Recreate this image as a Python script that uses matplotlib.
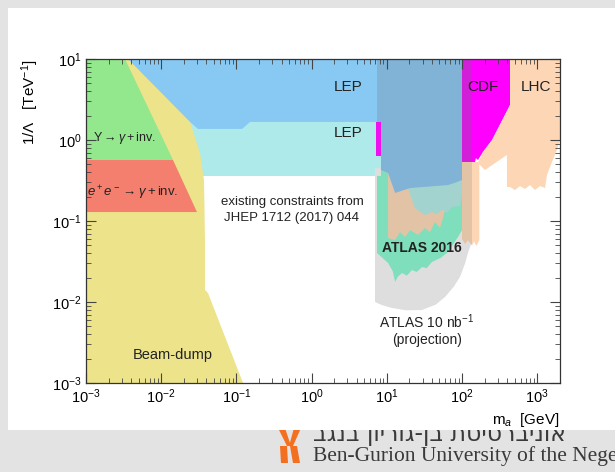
import matplotlib
matplotlib.use('Agg')
import matplotlib.pyplot as plt
from matplotlib.patches import Rectangle, Polygon
from matplotlib.ticker import LogLocator, NullFormatter
from matplotlib.transforms import Bbox, TransformedBbox

plt.rcParams['font.family'] = ['Liberation Sans', 'DejaVu Sans']
plt.rcParams['mathtext.fontset'] = 'custom'
plt.rcParams['mathtext.rm'] = 'Liberation Sans'
plt.rcParams['mathtext.it'] = 'Liberation Sans:italic'
plt.rcParams['mathtext.bf'] = 'Liberation Sans:bold'

# exclusion regions: m_a [GeV] and 1/Lambda [TeV^-1] along each boundary
lep_low_m = [1e-3, 8.37, 8.37, 1e-3]
lep_low_c = [0.36, 0.36, 1.8, 1.8]

lep_high_m = [1e-3, 7.41, 7.41, 0.152, 0.119, 0.0308, 0.0242, 1e-3]
lep_high_c = [10, 10, 1.67, 1.67, 1.37, 1.37, 1.67, 1.67]

beam_m = [1e-3, 1e-3, 3.62e-3, 0.0242, 0.0328, 0.0371, 0.0382, 0.0382, 0.0419, 0.1225]
beam_c = [1e-3, 10, 10, 1.67, 0.69, 0.32, 0.058, 0.0141, 0.0129, 1e-3]

upsilon_m = [1e-3, 3.30e-3, 0.01436, 1e-3]
upsilon_c = [10, 10, 0.566, 0.566]

ee_m = [1e-3, 0.01436, 0.0299, 1e-3]
ee_c = [0.566, 0.566, 0.129, 0.129]

proj_m = [6.97, 6.97, 8.5, 11.7, 18, 29.4, 45, 59.4, 78, 94, 110, 120, 135, 149, 163, 163]
proj_c = [0.45, 0.0100, 0.0092, 0.00844, 0.0079, 0.00796, 0.0093, 0.01153, 0.0155,
          0.0204, 0.030, 0.0403, 0.055, 0.0711, 0.18, 0.45]

atlas_m = [7.41, 7.41, 10.4, 12.0, 12.9, 14.0, 15.9, 18.5, 21.6, 25, 29.4, 34, 39.9, 52,
           65.2, 88.5, 110, 110, 8.37, 8.37]
atlas_c = [0.36, 0.0403, 0.0303, 0.024, 0.0177, 0.0205, 0.0228, 0.0212, 0.0248, 0.0235,
           0.0270, 0.0262, 0.0312, 0.035, 0.0414, 0.0634, 0.0893, 0.45, 0.45, 0.36]

tan_m = [10.4, 10.4, 12.9, 15.0, 17.5, 20.4, 26.0, 32.2, 37.5, 43.8, 50.9, 55.9, 59.4, 59.4]
tan_c = [0.45, 0.0617, 0.0582, 0.0731, 0.0634, 0.0774, 0.0672, 0.0820, 0.0731, 0.0973,
         0.082, 0.109, 0.137, 0.45]

teal_m = [19.1, 23.7, 32.2, 39.9, 46.5, 54.2, 63.2, 73.6, 94.0, 100, 100, 19.1]
teal_c = [0.255, 0.1445, 0.1186, 0.129, 0.122, 0.137, 0.1256, 0.149, 0.153, 0.20, 0.33, 0.33]

zdec_m = [7.41, 100, 100, 85.9, 65.2, 20.4, 12.9, 10.4, 8.37, 8.37, 7.41]
zdec_c = [10, 10, 0.321, 0.303, 0.278, 0.255, 0.222, 0.392, 0.426, 0.634, 0.634]

sliver_m = [7.18, 8.37, 8.37, 7.18]
sliver_c = [0.634, 0.634, 1.67, 1.67]

strip_tan_m = [100, 100, 110, 120, 136, 136]
strip_tan_c = [0.535, 0.06, 0.052, 0.058, 0.05, 0.535]
strip_peach_m = [136, 136, 145, 155, 170, 170]
strip_peach_c = [0.535, 0.05, 0.056, 0.049, 0.058, 0.535]

cdf_m = [100, 435, 435, 251, 190, 163, 153, 149, 100]
cdf_c = [10, 10, 2.70, 1.0, 0.711, 0.566, 0.600, 0.535, 0.535]
cdf_dark_m = [100, 136, 136, 100]
cdf_dark_c = [0.535, 0.535, 10, 10]

lhc_m = [435, 2010, 2010, 1834, 1573, 1350, 1271, 1089, 935, 802, 689, 590, 507, 435,
         396, 396, 202, 163, 190, 251, 435]
lhc_c = [10, 10, 1.0, 0.753, 0.535, 0.370, 0.255, 0.270, 0.241, 0.278, 0.248, 0.270,
         0.241, 0.263, 0.263, 0.653, 0.426, 0.520, 0.711, 1.0, 2.70]

regions = [
    (lep_low_m, lep_low_c, '#aeeae9'),
    (lep_high_m, lep_high_c, '#87c9f2'),
    (beam_m, beam_c, '#ece38b'),
    (upsilon_m, upsilon_c, '#93e78d'),
    (ee_m, ee_c, '#f47f6e'),
    (proj_m, proj_c, '#dedede'),
    (atlas_m, atlas_c, '#7fdfbd'),
    (tan_m, tan_c, '#e3c3a6'),
    (teal_m, teal_c, '#a2d3cf'),
    (zdec_m, zdec_c, '#80b3d6'),
    (sliver_m, sliver_c, '#ee10ee'),
    (strip_tan_m, strip_tan_c, '#e3c3a6'),
    (strip_peach_m, strip_peach_c, '#fdd7b5'),
    (cdf_m, cdf_c, '#ff00ff'),
    (cdf_dark_m, cdf_dark_c, '#d120d8'),
    (lhc_m, lhc_c, '#fdd7b5'),
]

fig = plt.figure(figsize=(6.15, 4.72), dpi=100, facecolor='#e3e3e3')
fig.patches.append(Rectangle((8 / 615, 1 - 430 / 472), 607 / 615, 422 / 472,
                             transform=fig.transFigure, facecolor='white',
                             edgecolor='none', zorder=-1))

ax = fig.add_axes([86 / 615, 1 - 383 / 472, 474 / 615, 324 / 472])
ax.set_xscale('log')
ax.set_yscale('log')
ax.set_xlim(1e-3, 2010)
ax.set_ylim(1e-3, 10)

for m, c, col in regions:
    ax.fill(m, c, color=col, lw=0)

txt = dict(color='#222222')
ax.text(3.05, 4.5, 'LEP', ha='center', va='center', fontsize=11, **txt)
ax.text(3.05, 1.22, 'LEP', ha='center', va='center', fontsize=11, **txt)
ax.text(190, 4.5, 'CDF', ha='center', va='center', fontsize=11, **txt)
ax.text(964, 4.5, 'LHC', ha='center', va='center', fontsize=11, **txt)
ax.text(1.24e-3, 1.05, r'$\Upsilon \rightarrow \gamma + $inv.', ha='left', va='center',
        fontsize=9, **txt)
ax.text(1.02e-3, 0.222, r'$e^+e^- \rightarrow \gamma + $inv.', ha='left', va='center',
        fontsize=9.5, **txt)
ax.text(0.548, 0.137, 'existing constraints from\nJHEP 1712 (2017) 044', ha='center',
        va='center', fontsize=9.5, linespacing=1.4, **txt)
ax.text(29.4, 0.0464, 'ATLAS 2016', ha='center', va='center', fontsize=10,
        fontweight='bold', **txt)
ax.text(34.3, 0.00566, r'ATLAS 10 nb$^{-1}$', ha='center', va='center', fontsize=10, **txt)
ax.text(34.3, 0.0034, '(projection)', ha='center', va='center', fontsize=10, **txt)
ax.text(0.01436, 2.22e-3, 'Beam-dump', ha='center', va='center', fontsize=10.5, **txt)

ax.set_xlabel(r'm$_a$  [GeV]', loc='right', fontsize=11, labelpad=4)
ax.set_ylabel(r'1/$\Lambda$   [TeV$^{-1}$]', loc='top', fontsize=11, labelpad=8)

for axis in (ax.xaxis, ax.yaxis):
    axis.set_major_locator(LogLocator(base=10, numticks=20))
    axis.set_minor_locator(LogLocator(base=10, subs=range(2, 10), numticks=20))
    axis.set_minor_formatter(NullFormatter())
ax.tick_params(which='both', direction='in', top=True, right=True, labelsize=10.5, pad=3,
               color='#444444')
ax.tick_params(which='major', length=7, width=0.8)
ax.tick_params(which='minor', length=3.5, width=0.6)
for s in ax.spines.values():
    s.set_linewidth(0.9)
    s.set_color('#333333')

# logo and university name below the slide
orange = '#f37021'
logo_shapes = [
    [(278, 428), (285, 428), (291, 446), (287, 446)],
    [(294, 428), (301, 428), (293, 446), (289, 446)],
    [(280, 446), (287, 446), (288, 463), (281, 463)],
    [(290, 446), (297, 446), (300, 463), (293, 463)],
]
for shape in logo_shapes:
    fig.patches.append(Polygon([(x / 615, 1 - y / 472) for x, y in shape], closed=True,
                               transform=fig.transFigure, facecolor=orange,
                               edgecolor='none', zorder=-2))
# matplotlib lays glyphs out left to right, so the Hebrew line is reversed
hebrew = 'אוניברסיטת בן-גוריון בנגב'[::-1]
below_slide = TransformedBbox(Bbox([[0, 0], [1, 1 - 430 / 472]]), fig.transFigure)
heb = fig.text(313 / 615, 1 - 441 / 472, hebrew, fontsize=17, color='#3a3a3a',
               family=['DejaVu Sans'], ha='left', va='baseline', zorder=-3)
heb.set_clip_box(below_slide)
heb.set_clip_on(True)
fig.text(313 / 615, 1 - 461 / 472, 'Ben-Gurion University of the Negev', fontsize=15.5,
         color='#3a3a3a', family=['Liberation Serif'], ha='left', va='baseline')

fig.savefig('out.png', dpi=100, facecolor=fig.get_facecolor())
